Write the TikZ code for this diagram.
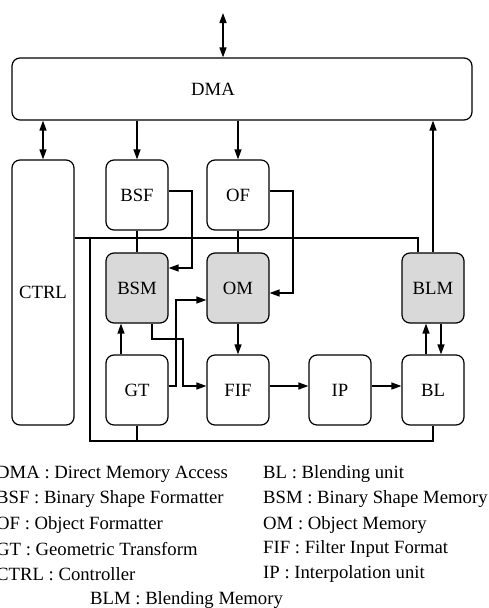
\documentclass[tikz,border=0pt]{standalone}
\usepackage{fontspec}
\setmainfont{Liberation Serif}
\usetikzlibrary{arrows.meta}
\begin{document}
\begin{tikzpicture}[x=1pt,y=-1pt,
  every node/.style={font=\fontsize{18.7pt}{22pt}\selectfont},
  blk/.style={draw,line width=1.2pt,rounded corners=8pt,inner sep=0pt,minimum width=62pt,minimum height=70pt},
  mem/.style={blk,fill=black!15},
  conn/.style={line width=1.3pt},
  arr/.style={conn,-{Triangle[length=10pt,width=7pt]}},
  darr/.style={conn,{Triangle[length=10pt,width=7pt]}-{Triangle[length=10pt,width=7pt]}},
  leg/.style={anchor=west,inner sep=0pt}]
\useasboundingbox (0,0) rectangle (488,608);
% boxes
\node[blk,minimum width=460pt,minimum height=62pt] (dma) at (242,89) {};
\node (dmat) at (213,89) {DMA};
\node[blk,minimum height=265pt] (ctrl) at (43,292.5) {CTRL};
\node[blk] (bsf) at (137,195) {BSF};
\node[blk] (of) at (238,195) {OF};
\node[mem] (bsm) at (137,288) {BSM};
\node[mem] (om) at (238,288) {OM};
\node[mem] (blm) at (433,288) {BLM};
\node[blk] (gt) at (137,390) {GT};
\node[blk] (fif) at (238,390) {FIF};
\node[blk] (ip) at (340,390) {IP};
\node[blk] (bl) at (433,390) {BL};
% coordinates
\coordinate (ext) at (223,13);
\coordinate (busy) at (0,238);
\coordinate (b1) at (90,238);
\coordinate (b2) at (90,441);
\coordinate (c1) at (192,268);
\coordinate (c2) at (293,293);
\coordinate (c3) at (183,339);
\coordinate (c4) at (176,300);
% DMA connections
\draw[darr] (ext) -- (ext |- dma.north);
\draw[darr] (ctrl.north) -- (ctrl.north |- dma.south);
\draw[arr] (bsf.north |- dma.south) -- (bsf.north);
\draw[arr] (of.north |- dma.south) -- (of.north);
\draw[arr] (blm.north) -- (blm.north |- dma.south);
% control bus
\draw[conn] (ctrl.east |- busy) -| ([xshift=-15pt]blm.north);
\draw[conn] (b1) -- (b2) -| (bl.south);
\draw[conn] (bsf.south) -- (bsm.north);
\draw[conn] (of.south) -- (om.north);
\draw[conn] (gt.south) -- (gt.south |- b2);
% data paths
\draw[arr] ([yshift=4pt]bsf.east) -| (c1) -- (c1 -| bsm.east);
\draw[arr] ([yshift=4pt]of.east) -| (c2) -- (c2 -| om.east);
\draw[arr] ([xshift=15pt]bsm.south) |- (c3) |- ([yshift=4pt]fif.west);
\draw[arr] ([yshift=4pt]gt.east) -| (c4) -- (c4 -| om.west);
\draw[arr] ([xshift=-16pt]gt.north) -- ([xshift=-16pt]bsm.south);
\draw[arr] (om.south) -- (fif.north);
\draw[arr] ([yshift=4pt]fif.east) -- ([yshift=4pt]ip.west);
\draw[arr] ([yshift=4pt]ip.east) -- ([yshift=4pt]bl.west);
\draw[arr] ([xshift=-7pt]bl.north) -- ([xshift=-7pt]blm.south);
\draw[arr] ([xshift=8pt]blm.south) -- ([xshift=8pt]bl.north);
% legend
\node[leg] (l1) at (-4,474) {DMA : Direct Memory Access};
\node[leg] (l2) at (-4,499) {BSF : Binary Shape Formatter};
\node[leg] (l3) at (-4,525) {OF : Object Formatter};
\node[leg] (l4) at (-4,549) {GT : Geometric Transform};
\node[leg] (l5) at (-4,574) {CTRL : Controller};
\node[leg] (r1) at (263,474) {BL : Blending unit};
\node[leg] (r2) at (263,499) {BSM : Binary Shape Memory};
\node[leg] (r3) at (263,525) {OM : Object Memory};
\node[leg] (r4) at (263,549) {FIF : Filter Input Format};
\node[leg] (r5) at (263,574) {IP : Interpolation unit};
\node[leg] (b6) at (90,600) {BLM : Blending Memory};
\end{tikzpicture}
\end{document}
